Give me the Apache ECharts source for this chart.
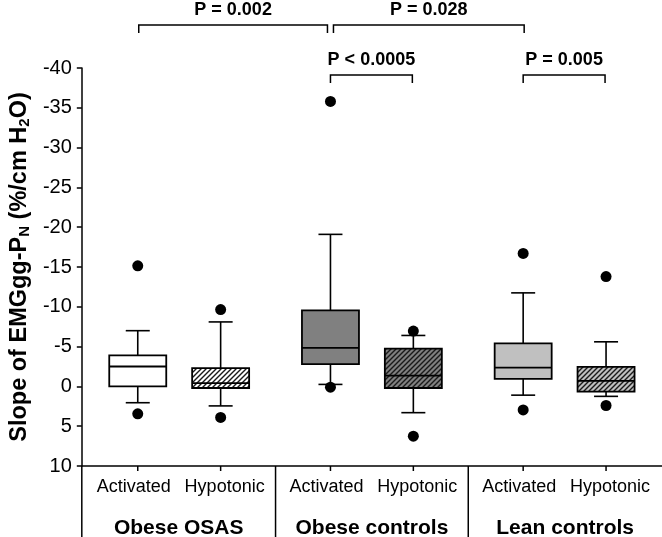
<!DOCTYPE html>
<html><head><meta charset="utf-8">
<script src="https://cdn.jsdelivr.net/npm/echarts@6/dist/echarts.min.js"></script>
<style>html,body{margin:0;padding:0;background:#fff}#c{width:662px;height:537px}</style>
</head><body><div id="c"></div>
<script>
// ---------- DATA ----------
const groups = ['Obese OSAS', 'Obese controls', 'Lean controls'];
const conditions = ['Activated', 'Hypotonic'];
// box order: OSAS-Act, OSAS-Hyp, ObeseCtl-Act, ObeseCtl-Hyp, LeanCtl-Act, LeanCtl-Hyp
// [lower whisker, Q1, median, Q3, upper whisker] (ascending numeric, %/cm H2O)
const boxStats = [
  [-7.0, -3.9, -2.5, 0.0, 2.05],
  [-8.1, -2.3, -0.4, 0.2, 2.45],
  [-19.1, -9.55, -4.85, -2.8, -0.25],
  [-6.4, -4.75, -1.35, 0.2, 3.3],
  [-11.75, -5.4, -2.35, -0.95, 1.1],
  [-5.6, -2.45, -0.7, 0.65, 1.25]
];
// outlying points for each box
const outliers = [
  [-15.15, 3.45],
  [-9.65, 3.9],
  [-35.8, 0.1],
  [-6.95, 6.25],
  [-16.7, 2.95],
  [-13.8, 2.4]
];
const yTicks = { min: -40, max: 10, step: 5 };
// comparisons: [boxA, boxB, label, level]
const comparisons = [
  [0, 2, 'P = 0.002', 0],
  [2, 4, 'P = 0.028', 0],
  [2, 3, 'P < 0.0005', 1],
  [4, 5, 'P = 0.005', 1]
];

// ---------- STYLE ----------
const FONT = '"Liberation Sans", Arial, Helvetica, sans-serif';
const boxBase = ['#ffffff', '#ffffff', '#808080', '#808080', '#c0c0c0', '#c0c0c0'];
const boxHatched = [false, true, false, true, false, true];
const groupGap = 0.325;
const firstPos = 0.675;

function hatch(base) {
  const s = 5;
  const c = document.createElement('canvas');
  c.width = s; c.height = s;
  const g = c.getContext('2d');
  g.fillStyle = base; g.fillRect(0, 0, s, s);
  g.strokeStyle = '#1a1a1a'; g.lineWidth = 1.4;
  g.beginPath();
  g.moveTo(-1, s + 1); g.lineTo(s + 1, -1);
  g.moveTo(-1, 1); g.lineTo(1, -1);
  g.moveTo(s - 1, s + 1); g.lineTo(s + 1, s - 1);
  g.stroke();
  return { image: c, repeat: 'repeat' };
}
const fills = boxBase.map((b, i) => boxHatched[i] ? hatch(b) : b);

function boxPos(i) {
  const g = Math.floor(i / conditions.length), c = i % conditions.length;
  return firstPos + g * (conditions.length + groupGap) + c;
}

const boxData = boxStats.map((s, i) => [boxPos(i)].concat(s).concat([i]));
const outlierData = [];
outliers.forEach((arr, i) => arr.forEach(v => outlierData.push([boxPos(i), v])));

function renderBox(params, api) {
  const x = api.value(0);
  const p = [1, 2, 3, 4, 5].map(d => api.coord([x, api.value(d)])[1]);
  const cx = api.coord([x, 0])[0];
  const idx = api.value(6);
  const bw = 57, cw = 24;
  const ln = { stroke: '#000', lineWidth: 1.6 };
  const top = Math.min(p[1], p[3]), bot = Math.max(p[1], p[3]);
  const wTop = Math.min(p[0], p[4]), wBot = Math.max(p[0], p[4]);
  return {
    type: 'group',
    children: [
      { type: 'line', shape: { x1: cx, y1: wTop, x2: cx, y2: top }, style: ln },
      { type: 'line', shape: { x1: cx, y1: bot, x2: cx, y2: wBot }, style: ln },
      { type: 'line', shape: { x1: cx - cw / 2, y1: wTop, x2: cx + cw / 2, y2: wTop }, style: ln },
      { type: 'line', shape: { x1: cx - cw / 2, y1: wBot, x2: cx + cw / 2, y2: wBot }, style: ln },
      { type: 'rect', shape: { x: cx - bw / 2, y: top, width: bw, height: bot - top },
        style: { fill: fills[idx], stroke: '#000', lineWidth: 1.8 } },
      { type: 'line', shape: { x1: cx - bw / 2, y1: p[2], x2: cx + bw / 2, y2: p[2] }, style: { stroke: '#000', lineWidth: 1.8 } }
    ]
  };
}

const chart = echarts.init(document.getElementById('c'), null, { renderer: 'canvas' });
chart.setOption({
  animation: false,
  backgroundColor: '#fff',
  grid: { left: 81, right: 0, top: 68, bottom: 71 },
  xAxis: {
    type: 'value', min: 0, max: 7,
    axisLine: { show: true, onZero: false, lineStyle: { color: '#000', width: 1.5 } },
    axisTick: { show: false }, axisLabel: { show: false }, splitLine: { show: false }
  },
  yAxis: {
    type: 'value', min: yTicks.min, max: yTicks.max, interval: yTicks.step, inverse: true,
    axisLine: { show: true, lineStyle: { color: '#000', width: 1.5 } },
    axisTick: { show: true, length: 5, lineStyle: { color: '#000', width: 1.5 } },
    axisLabel: { color: '#000', fontSize: 20, fontFamily: FONT, margin: 10 },
    splitLine: { show: false },
    name: '{b|Slope of EMGgg-P}{s|N}{b| (%/cm H}{s|2}{b|O)}',
    nameLocation: 'middle', nameGap: 46, nameRotate: 90,
    nameTextStyle: {
      rich: {
        b: { fontSize: 23.5, fontWeight: 'bold', fontFamily: FONT, color: '#000' },
        s: { fontSize: 15, fontWeight: 'bold', fontFamily: FONT, color: '#000', verticalAlign: 'bottom', padding: [9, 0, 0, 0] }
      }
    }
  },
  series: [
    { type: 'custom', renderItem: renderBox, data: boxData, clip: false, z: 2, encode: { x: 0, y: [1, 2, 3, 4, 5] } },
    { type: 'scatter', data: outlierData, symbol: 'circle', symbolSize: 11, itemStyle: { color: '#000', opacity: 1 }, z: 5, silent: true }
  ]
});

// ---------- annotations (layout from the axes) ----------
const axisY = chart.convertToPixel({ gridIndex: 0 }, [0, yTicks.max])[1];
const leftX = chart.convertToPixel({ gridIndex: 0 }, [0, 0])[0];
const H = 537;
const px = i => chart.convertToPixel({ gridIndex: 0 }, [boxPos(i), 0])[0];
const g = [];
const lineStyle = { stroke: '#000', lineWidth: 1.5 };
// y-axis extension below the x axis
g.push({ type: 'line', shape: { x1: leftX, y1: axisY, x2: leftX, y2: H }, style: lineStyle });
// category ticks and labels
for (let i = 0; i < boxStats.length; i++) {
  const x = px(i);
  const c = i % conditions.length;
  g.push({ type: 'line', shape: { x1: x, y1: axisY, x2: x, y2: axisY + 5 }, style: lineStyle });
  g.push({ type: 'text', x: x + (c === 0 ? -4 : 4), y: axisY + 21, style: {
    text: conditions[c], fill: '#000', font: '18px ' + FONT, align: 'center', verticalAlign: 'middle' } });
}
// group dividers and group names
for (let gi = 0; gi < groups.length; gi++) {
  const a = gi === 0 ? leftX : (px(gi * 2 - 1) + px(gi * 2)) / 2;
  const b = gi === groups.length - 1 ? 662 : (px(gi * 2 + 1) + px(gi * 2 + 2)) / 2;
  if (gi > 0) g.push({ type: 'line', shape: { x1: a, y1: axisY, x2: a, y2: H }, style: lineStyle });
  g.push({ type: 'text', x: (a + b) / 2, y: axisY + 62, style: {
    text: groups[gi], fill: '#000', font: 'bold 21px ' + FONT, align: 'center', verticalAlign: 'middle' } });
}
// comparison brackets
const levelY = [25, 75];
comparisons.forEach(([a, b, label, lvl]) => {
  let x1 = px(a), x2 = px(b);
  if (lvl === 0) { x1 += (a === 0 ? 1 : 3); x2 -= (b === 2 ? 3 : -1); }
  else { x2 -= 1; }
  const y = levelY[lvl];
  g.push({ type: 'polyline', shape: { points: [[x1, y + 8], [x1, y], [x2, y], [x2, y + 8]] }, style: { stroke: '#000', lineWidth: 1.5, fill: null } });
  g.push({ type: 'text', x: (x1 + x2) / 2, y: y - 15, style: {
    text: label, fill: '#000', font: 'bold 18px ' + FONT, align: 'center', verticalAlign: 'middle' } });
});
chart.setOption({ graphic: g });
</script>
</body></html>
